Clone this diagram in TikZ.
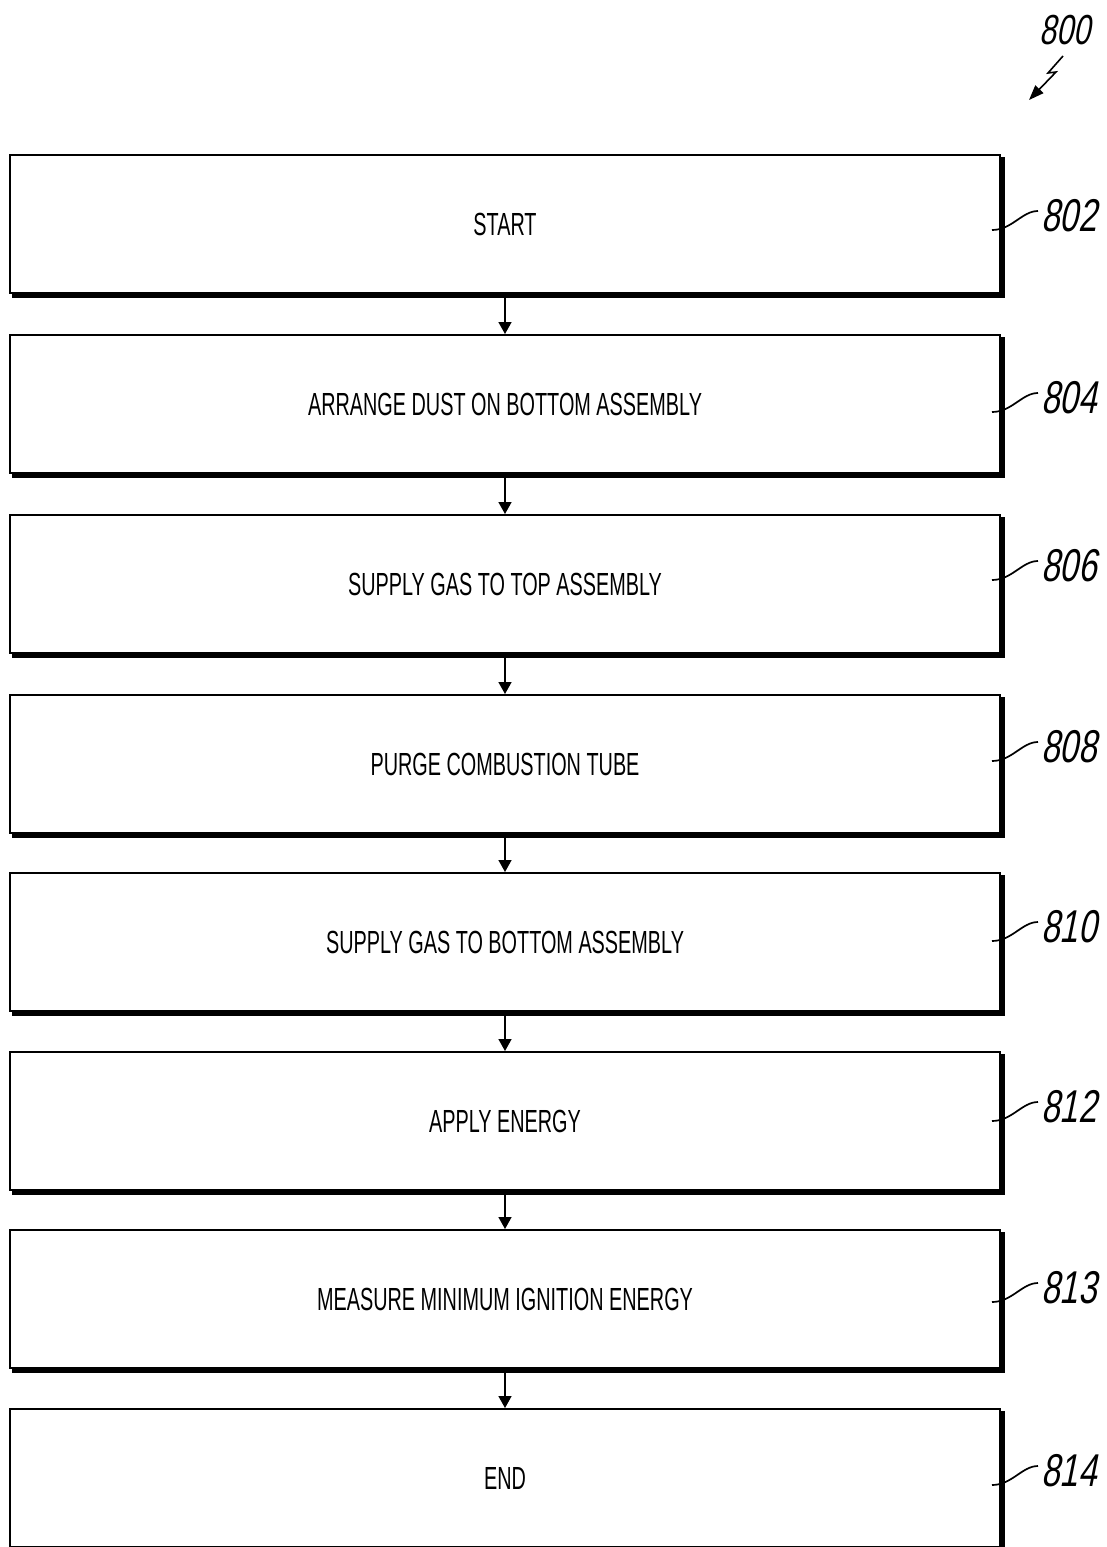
\documentclass[tikz,border=0pt]{standalone}
\usepackage{fontspec}
\usetikzlibrary{arrows.meta}
\newfontfamily\boxfont[FakeStretch=0.62]{Liberation Sans}
\newfontfamily\numfont[FakeStretch=0.72,FakeSlant=0.2]{Liberation Sans}
\tikzset{
  stepbox/.style={draw, line width=2pt, minimum width=990pt, minimum height=138pt,
    inner sep=0pt, font=\boxfont\fontsize{32}{36}\selectfont},
  numlbl/.style={anchor=west, inner sep=0pt, font=\numfont\fontsize{46}{50}\selectfont},
  flow/.style={line width=1.6pt, -{Triangle[length=12pt,width=13pt]}},
  leader/.style={line width=1.7pt}
}
\begin{document}
\begin{tikzpicture}[x=1pt,y=-1pt]
\useasboundingbox (0,0) rectangle (1107,1547);
\clip (0,0) rectangle (1107,1547);
\fill[white] (0,0) rectangle (1107,1547);
% boxes
\node[stepbox] (b1) at (505,224) {START};
\node[stepbox] (b2) at (505,404) {ARRANGE DUST ON BOTTOM ASSEMBLY};
\node[stepbox] (b3) at (505,584) {SUPPLY GAS TO TOP ASSEMBLY};
\node[stepbox] (b4) at (505,764) {PURGE COMBUSTION TUBE};
\node[stepbox] (b5) at (505,942) {SUPPLY GAS TO BOTTOM ASSEMBLY};
\node[stepbox] (b6) at (505,1121) {APPLY ENERGY};
\node[stepbox] (b7) at (505,1299) {MEASURE MINIMUM IGNITION ENERGY};
\node[stepbox] (b8) at (505,1478) {END};
% shadows
\foreach \b in {b1,b2,b3,b4,b5,b6,b7,b8}{
  \fill ([xshift=3pt]\b.south west) rectangle ([xshift=4pt,yshift=-4pt]\b.south east);
  \fill ([yshift=-3pt]\b.north east) rectangle ([xshift=4pt,yshift=-4pt]\b.south east);
}
% connectors
\foreach \a/\c in {b1/b2,b2/b3,b3/b4,b4/b5,b5/b6,b6/b7,b7/b8}{
  \draw[flow] (\a.south) -- (\c.north);
}
% labels
\foreach \b/\t/\y in {b1/802/216,b2/804/398,b3/806/566,b4/808/747,b5/810/927,b6/812/1107,b7/813/1288,b8/814/1471}{
  \node[numlbl] (l\t) at (1041,\y) {\t};
  \coordinate (c\t) at (992,\y+14);
  \draw[leader] (c\t) .. controls +(20,0) and +(-16,0) .. ([xshift=-3pt,yshift=5pt]l\t.west);
}
% figure number
\node[numlbl, anchor=center, font=\numfont\fontsize{42}{46}\selectfont] (l800) at (1065,30) {800};
\coordinate (z0) at (1063,56);
\coordinate (z1) at (1048,73);
\coordinate (z2) at (1056,72);
\coordinate (z3) at (1029,100);
\draw[line width=1.6pt, -{Triangle[length=15pt,width=11pt]}] (z0) -- (z1) -- (z2) -- (z3);
\end{tikzpicture}
\end{document}
